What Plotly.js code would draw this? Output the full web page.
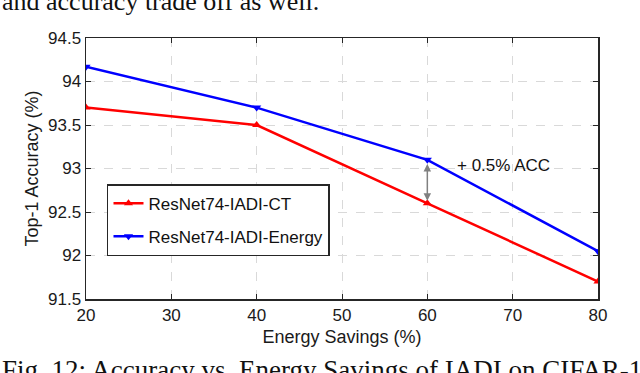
<!DOCTYPE html>
<html>
<head>
<meta charset="utf-8">
<script src="https://cdn.plot.ly/plotly-3.0.1.min.js"></script>
<style>
  html, body { margin: 0; padding: 0; background: #fff; }
  #chart { width: 640px; height: 373px; }
</style>
</head>
<body>
<div id="chart"></div>
<script>
// Energy savings (%) on the x axis
var savings = [20, 40, 60, 80];
// Top-1 accuracy (%) per method
var accCT = [93.7, 93.5, 92.6, 91.7];
var accEnergy = [94.17, 93.7, 93.1, 92.05];
var seriesNames = ['ResNet74-IADI-CT', 'ResNet74-IADI-Energy'];
var xTicks = [20, 30, 40, 50, 60, 70, 80];
var yTicks = [91.5, 92, 92.5, 93, 93.5, 94, 94.5];

var data = [
    {
        x: savings,
        y: accCT,
        type: 'scatter',
        mode: 'lines+markers',
        name: seriesNames[0],
        legendgroup: 'ct',
        line: {color: '#ff0000', width: 2.5},
        marker: {symbol: 'triangle-up', size: 8, color: '#ff0000'}
    },
    {
        x: savings,
        y: accEnergy,
        type: 'scatter',
        mode: 'lines+markers',
        name: seriesNames[1],
        legendgroup: 'energy',
        line: {color: '#0000ff', width: 2.5},
        marker: {symbol: 'triangle-down', size: 8, color: '#0000ff'}
    }
];

var sans = 'Liberation Sans, Arial, sans-serif';
var serif = 'Liberation Serif, Times New Roman, serif';
var tickFont = {family: sans, size: 17, color: '#1a1a1a'};

var layout = {
    width: 640,
    height: 373,
    margin: {l: 86, r: 42, t: 38, b: 74},
    paper_bgcolor: '#fff',
    plot_bgcolor: '#fff',
    showlegend: true,
    xaxis: {
        range: [20, 80],
        tickvals: xTicks,
        ticktext: xTicks.map(String),
        showgrid: true,
        gridcolor: '#d9d9d9',
        griddash: 'dash',
        gridwidth: 1,
        zeroline: false,
        showline: true,
        linecolor: '#262626',
        linewidth: 1.5,
        mirror: 'ticks',
        ticks: 'inside',
        ticklen: 5,
        tickcolor: '#262626',
        tickfont: tickFont,
        title: {text: 'Energy Savings (%)', font: {family: sans, size: 18, color: '#1a1a1a'}, standoff: 6}
    },
    yaxis: {
        range: [91.5, 94.5],
        tickvals: yTicks,
        ticktext: yTicks.map(String),
        showgrid: true,
        gridcolor: '#d9d9d9',
        griddash: 'dash',
        gridwidth: 1,
        zeroline: false,
        showline: true,
        linecolor: '#262626',
        linewidth: 1.5,
        mirror: 'ticks',
        ticks: 'inside',
        ticklen: 5,
        tickcolor: '#262626',
        tickfont: tickFont,
        title: {text: 'Top-1 Accuracy (%)', font: {family: sans, size: 18, color: '#1a1a1a'}, standoff: 4}
    },
    legend: {
        x: 0.041,
        y: 0.44,
        xanchor: 'left',
        yanchor: 'top',
        bgcolor: '#fff',
        bordercolor: '#262626',
        borderwidth: 1.5,
        itemwidth: 30,
        traceorder: 'grouped',
        tracegroupgap: 8,
        font: {family: sans, size: 17, color: '#111'}
    },
    annotations: [
        // double-headed gap arrow at 60%
        {
            x: 60, y: accCT[2] + 0.03,
            ax: 60, ay: accEnergy[2] - 0.03,
            xref: 'x', yref: 'y', axref: 'x', ayref: 'y',
            showarrow: true,
            arrowside: 'end+start',
            arrowhead: 2,
            startarrowhead: 2,
            arrowsize: 1,
            startarrowsize: 1,
            arrowwidth: 1.5,
            arrowcolor: '#808080',
            text: ''
        },
        {
            x: 63.2, y: 93.04,
            xref: 'x', yref: 'y',
            xanchor: 'left',
            showarrow: false,
            text: '+ 0.5% ACC',
            font: {family: sans, size: 17, color: '#111'}
        },
        // surrounding paper text
        {
            x: -0.168, y: 1.138,
            xref: 'paper', yref: 'paper',
            xanchor: 'left', yanchor: 'middle',
            showarrow: false,
            text: 'and accuracy trade off as well.',
            font: {family: serif, size: 26, color: '#111'}
        },
        {
            x: -0.168, y: -0.272,
            xref: 'paper', yref: 'paper',
            xanchor: 'left', yanchor: 'middle',
            showarrow: false,
            text: 'Fig. 12: Accuracy vs. Energy Savings of IADI on CIFAR-10',
            font: {family: serif, size: 27, color: '#111'}
        }
    ]
};

Plotly.newPlot('chart', data, layout, {staticPlot: true, displayModeBar: false});
</script>
</body>
</html>
